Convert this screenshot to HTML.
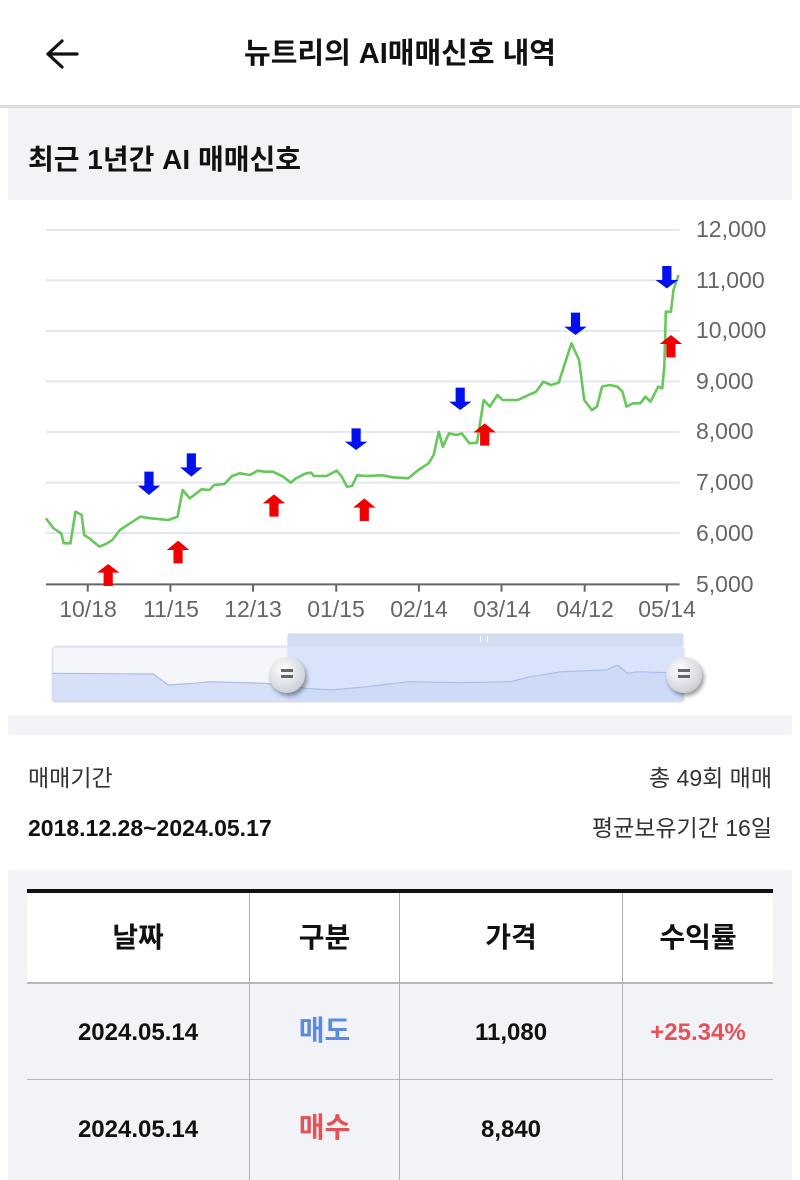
<!DOCTYPE html>
<html><head><meta charset="utf-8"><style>
*{margin:0;padding:0;box-sizing:border-box}
body{width:800px;height:1180px;background:#fff;font-family:"Liberation Sans","Noto Sans CJK KR",sans-serif;position:relative;overflow:hidden;color:#111}
.abs{position:absolute}
</style></head><body>
<div class="abs" style="left:0;top:0;width:800px;height:106px;background:#fff"></div>
<svg class="abs" style="left:44px;top:38px" width="36" height="32" viewBox="0 0 36 32"><path d="M18 3 L4 16 L18 29 M4 16 H33" stroke="#111" stroke-width="3.2" fill="none" stroke-linecap="round" stroke-linejoin="round"/></svg>
<div class="abs" style="left:0;top:34px;width:800px;text-align:center;font-size:29px;font-weight:bold;line-height:40px">뉴트리의 AI매매신호 내역</div>
<div class="abs" style="left:0;top:105px;width:800px;height:3px;background:#ddd"></div>
<div class="abs" style="left:8px;top:108px;width:784px;height:92px;background:#f2f3f6"></div>
<div class="abs" style="left:28px;top:140px;font-size:28px;font-weight:bold;line-height:40px">최근 1년간 AI 매매신호</div>
<div class="abs" style="left:8px;top:715px;width:784px;height:20px;background:#f2f3f6"></div>

<svg class="abs" style="left:0;top:200px" width="800" height="520" viewBox="0 0 1568 1560" preserveAspectRatio="none">
<g stroke="#e3e7ee" stroke-width="2">
<line x1="90" x2="1332" y1="90" y2="90" vector-effect="non-scaling-stroke"/>
<line x1="90" x2="1332" y1="241" y2="241" vector-effect="non-scaling-stroke"/>
<line x1="90" x2="1332" y1="393" y2="393" vector-effect="non-scaling-stroke"/>
<line x1="90" x2="1332" y1="544" y2="544" vector-effect="non-scaling-stroke"/>
<line x1="90" x2="1332" y1="696" y2="696" vector-effect="non-scaling-stroke"/>
<line x1="90" x2="1332" y1="848" y2="848" vector-effect="non-scaling-stroke"/>
<line x1="90" x2="1332" y1="999" y2="999" vector-effect="non-scaling-stroke"/>
</g>
<line x1="90" x2="1332" y1="1153" y2="1153" stroke="#666" stroke-width="2" vector-effect="non-scaling-stroke"/>
<g stroke="#666" stroke-width="2">
<line x1="172" x2="172" y1="1153" y2="1175" vector-effect="non-scaling-stroke"/>
<line x1="334" x2="334" y1="1153" y2="1175" vector-effect="non-scaling-stroke"/>
<line x1="496" x2="496" y1="1153" y2="1175" vector-effect="non-scaling-stroke"/>
<line x1="659" x2="659" y1="1153" y2="1175" vector-effect="non-scaling-stroke"/>
<line x1="821" x2="821" y1="1153" y2="1175" vector-effect="non-scaling-stroke"/>
<line x1="983" x2="983" y1="1153" y2="1175" vector-effect="non-scaling-stroke"/>
<line x1="1146" x2="1146" y1="1153" y2="1175" vector-effect="non-scaling-stroke"/>
<line x1="1307" x2="1307" y1="1153" y2="1175" vector-effect="non-scaling-stroke"/>
</g>
<polyline fill="none" stroke="#66c75a" stroke-width="2.6" vector-effect="non-scaling-stroke" stroke-linejoin="round" points="90,955 105,985 120,1000 125,1030 138,1030 148,935 160,945 165,1005 175,1015 195,1040 210,1030 220,1020 235,990 255,970 275,950 295,955 330,960 348,950 358,870 372,895 395,868 410,870 420,855 440,852 455,828 470,820 490,825 505,812 520,815 535,815 555,830 570,848 580,835 600,820 610,818 615,828 640,828 660,812 670,830 680,860 690,858 700,826 720,828 750,826 770,832 800,835 820,810 840,790 850,765 860,695 868,740 880,700 895,705 905,700 920,730 935,728 948,600 960,620 975,585 985,600 1015,600 1040,582 1050,576 1065,545 1080,555 1095,548 1120,430 1135,480 1145,600 1160,630 1170,620 1180,560 1195,555 1210,560 1220,575 1228,620 1240,610 1255,610 1265,590 1275,605 1290,560 1298,565 1302,500 1305,335 1315,335 1320,270 1330,225"/>
<g fill="#0010f0">
<path d="M283,815h18v42h13l-22,28l-22,-28h13z"/>
<path d="M366,760h18v42h13l-22,28l-22,-28h13z"/>
<path d="M689,685h18v40h13l-22,25l-22,-25h13z"/>
<path d="M893,563h18v42h13l-22,25l-22,-25h13z"/>
<path d="M1119,338h18v42h13l-22,25l-22,-25h13z"/>
<path d="M1298,198h18v42h13l-22,25l-22,-25h13z"/>
</g>
<g fill="#f00000">
<path d="M203,1158h18v-40h13l-22,-26l-22,26h13z"/>
<path d="M340,1090h18v-40h13l-22,-28l-22,28h13z"/>
<path d="M528,950h18v-40h13l-22,-27l-22,27h13z"/>
<path d="M705,963h18v-40h13l-22,-28l-22,28h13z"/>
<path d="M941,737h18v-40h13l-22,-27l-22,27h13z"/>
<path d="M1306,472h18v-40h13l-22,-27l-22,27h13z"/>
</g>
<rect x="103" y="1340" width="1237" height="165" rx="8" fill="#f4f6fa" stroke="#dfe4ee" stroke-width="2" vector-effect="non-scaling-stroke"/>
<rect x="563" y="1340" width="777" height="165" fill="#d9e4fb"/>
<rect x="563" y="1300" width="777" height="40" rx="6" fill="#d3dcf1"/>
<path d="M103,1420 L300,1422 L330,1455 L380,1450 L410,1445 L520,1450 L600,1465 L650,1470 L720,1460 L800,1445 L900,1448 L1000,1445 L1040,1430 L1100,1415 L1190,1410 L1210,1395 L1230,1420 L1250,1415 L1340,1420 L1340,1505 L103,1505Z" fill="#c9d7f5" opacity="0.7"/>
<polyline fill="none" stroke="#a9bde6" stroke-width="1.2" vector-effect="non-scaling-stroke" points="103,1420 300,1422 330,1455 380,1450 410,1445 520,1450 600,1465 650,1470 720,1460 800,1445 900,1448 1000,1445 1040,1430 1100,1415 1190,1410 1210,1395 1230,1420 1250,1415 1340,1420"/>
</svg>
<div class="abs" style="left:269px;top:657px;width:36px;height:36px;border-radius:50%;background:radial-gradient(circle at 40% 35%,#fff,#cfd3da 70%,#8a8f98);box-shadow:2px 3px 4px rgba(0,0,0,.4)"></div>
<div class="abs" style="left:666px;top:657px;width:36px;height:36px;border-radius:50%;background:radial-gradient(circle at 40% 35%,#fff,#cfd3da 70%,#8a8f98);box-shadow:2px 3px 4px rgba(0,0,0,.4)"></div>
<div class="abs" style="left:281px;top:669px;width:12px;height:3px;background:#666;box-shadow:0 6px 0 #666"></div>
<div class="abs" style="left:678px;top:669px;width:12px;height:3px;background:#666;box-shadow:0 6px 0 #666"></div>
<div class="abs" style="left:480px;top:636px;width:8px;height:6px;border-left:1px solid #fff;border-right:1px solid #fff"></div>

<div style="font-size:23px;color:#666;line-height:26px">
<div class="abs" style="left:696px;top:216px">12,000</div>
<div class="abs" style="left:696px;top:267px">11,000</div>
<div class="abs" style="left:696px;top:317px">10,000</div>
<div class="abs" style="left:696px;top:368px">9,000</div>
<div class="abs" style="left:696px;top:418px">8,000</div>
<div class="abs" style="left:696px;top:469px">7,000</div>
<div class="abs" style="left:696px;top:520px">6,000</div>
<div class="abs" style="left:696px;top:571px">5,000</div>
<div class="abs" style="left:58px;top:596px;width:60px;text-align:center">10/18</div>
<div class="abs" style="left:141px;top:596px;width:60px;text-align:center">11/15</div>
<div class="abs" style="left:223px;top:596px;width:60px;text-align:center">12/13</div>
<div class="abs" style="left:306px;top:596px;width:60px;text-align:center">01/15</div>
<div class="abs" style="left:389px;top:596px;width:60px;text-align:center">02/14</div>
<div class="abs" style="left:472px;top:596px;width:60px;text-align:center">03/14</div>
<div class="abs" style="left:555px;top:596px;width:60px;text-align:center">04/12</div>
<div class="abs" style="left:637px;top:596px;width:60px;text-align:center">05/14</div>
</div>

<div class="abs" style="left:28px;top:762px;font-size:23px;color:#333;line-height:32px">매매기간</div>
<div class="abs" style="right:28px;top:762px;font-size:23px;color:#333;line-height:32px">총 49회 매매</div>
<div class="abs" style="left:28px;top:812px;font-size:23px;font-weight:bold;line-height:32px">2018.12.28~2024.05.17</div>
<div class="abs" style="right:28px;top:812px;font-size:23px;color:#333;line-height:32px">평균보유기간 16일</div>

<div class="abs" style="left:8px;top:870px;width:784px;height:310px;background:#f2f3f6"></div>
<div class="abs" style="left:27px;top:889px;width:746px;height:4px;background:#111"></div>
<div class="abs" style="left:27px;top:893px;width:746px;height:90px;background:#fff"></div>
<div class="abs" style="left:27px;top:982px;width:746px;height:2px;background:#b8b8b8"></div>
<div class="abs" style="left:27px;top:1079px;width:746px;height:1px;background:#b8b8b8"></div>
<div class="abs" style="left:249px;top:893px;width:1px;height:287px;background:#b0b0b0"></div>
<div class="abs" style="left:399px;top:893px;width:1px;height:287px;background:#b0b0b0"></div>
<div class="abs" style="left:622px;top:893px;width:1px;height:287px;background:#b0b0b0"></div>
<div style="font-size:28px;font-weight:bold;line-height:36px">
<div class="abs" style="left:27px;top:920px;width:222px;text-align:center">날짜</div>
<div class="abs" style="left:250px;top:920px;width:149px;text-align:center">구분</div>
<div class="abs" style="left:400px;top:920px;width:222px;text-align:center">가격</div>
<div class="abs" style="left:623px;top:920px;width:150px;text-align:center">수익률</div>
<div class="abs" style="left:27px;top:1015px;width:222px;text-align:center;font-size:24px">2024.05.14</div>
<div class="abs" style="left:250px;top:1013px;width:149px;text-align:center;color:#5b8be0">매도</div>
<div class="abs" style="left:400px;top:1015px;width:222px;text-align:center;font-size:24px">11,080</div>
<div class="abs" style="left:623px;top:1015px;width:150px;text-align:center;font-size:24px;color:#e65058">+25.34%</div>
<div class="abs" style="left:27px;top:1112px;width:222px;text-align:center;font-size:24px">2024.05.14</div>
<div class="abs" style="left:250px;top:1110px;width:149px;text-align:center;color:#e65058">매수</div>
<div class="abs" style="left:400px;top:1112px;width:222px;text-align:center;font-size:24px">8,840</div>
</div>
</body></html>
